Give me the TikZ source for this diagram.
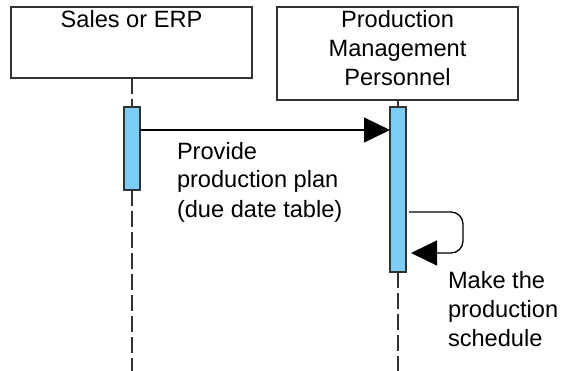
\documentclass[tikz,border=0pt]{standalone}
\usepackage{fontspec}
\setmainfont{Liberation Sans}
\usetikzlibrary{arrows.meta}
\definecolor{actfill}{RGB}{125,206,244}
\definecolor{linegray}{RGB}{51,51,51}

\begin{document}
\begin{tikzpicture}[x=1pt,y=-1pt,
  every node/.style={inner sep=0pt, outer sep=0pt},
  headbox/.style={draw=linegray, line width=1.6pt, fill=white, anchor=north west, minimum width=241pt},
  actbar/.style={draw=linegray, line width=1.6pt, fill=actfill, anchor=north west, minimum width=16pt},
  lifeline/.style={draw=linegray, line width=1.8pt, dash pattern=on 16pt off 5pt},
  solidlink/.style={draw=linegray, line width=1.8pt},
  txt/.style={font=\fontsize{23.6}{29}\selectfont, text=black},
  msg/.style={draw=black, line width=1.3pt, -{Triangle[length=26pt,width=25pt]}},
]
\useasboundingbox (0,0) rectangle (561,371);

% participant heads (multi-line texts are placed by the baseline of their last line)
\node[headbox, minimum height=71pt] (sales) at (11,7) {};
\node[headbox, minimum height=93pt] (prod) at (277,7) {};
\node[txt, anchor=base] (salesname) at (131.5,28) {Sales or ERP};
\node[txt, align=center, anchor=base] (prodname) at (397.5,86) {Production\\Management\\Personnel};

% lifelines, drawn beneath the activation bars
\coordinate (bottom) at (0,371);
\coordinate (a1top) at (132,107);
\coordinate (a1bot) at (132,190);
\coordinate (a2top) at (398,107);
\coordinate (a2bot) at (398,272);
\draw[lifeline] (a1top |- sales.south) -- (a1top);
\draw[lifeline] (a1bot) -- (a1bot |- bottom);
\draw[solidlink] (a2top |- prod.south) -- (a2top);
\draw[lifeline] (a2bot) -- (a2bot |- bottom);

% activation bars
\node[actbar, minimum height=83pt] (act1) at (124,107) {};
\node[actbar, minimum height=165pt] (act2) at (390,107) {};

% messages
\coordinate (m1) at (0,130);
\draw[msg] (act1.east |- m1) -- (act2.west |- m1);
\coordinate (s1) at (0,212);
\coordinate (s2) at (0,253);
\coordinate (loopx) at (463,0);
\draw[msg, rounded corners=12pt] ([xshift=3pt]act2.east |- s1) -- (loopx |- s1) -- (loopx |- s2) -- ([xshift=5pt]act2.east |- s2);

% message labels
\node[txt, align=left, anchor=base west] (provide) at (177,217) {Provide\\production plan\\(due date table)};
\node[txt, align=left, anchor=base west] (schedule) at (448,346) {Make the\\production\\schedule};
\end{tikzpicture}
\end{document}
